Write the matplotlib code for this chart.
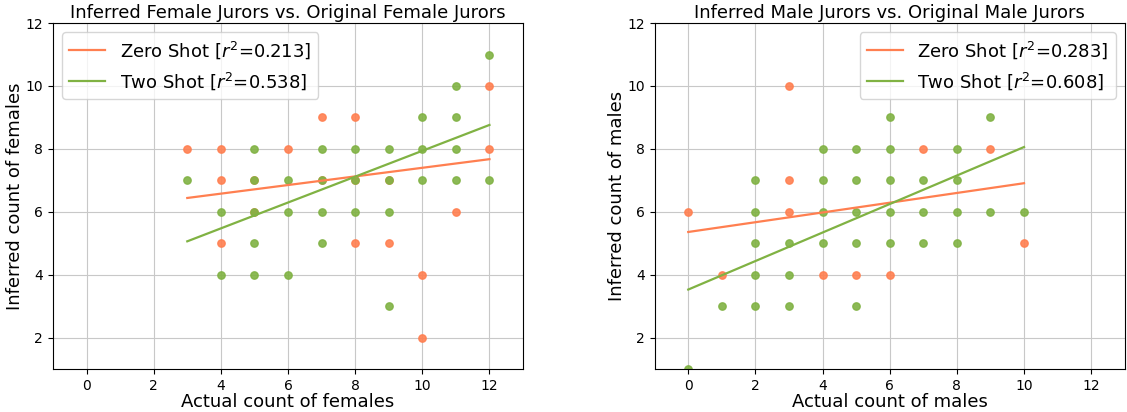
import matplotlib
matplotlib.use('Agg')
import matplotlib.pyplot as plt
import numpy as np

# 女性陪审员 (actual, inferred)
f_zero_x = [3, 4, 4, 4, 5, 5, 6, 7, 7, 8, 8, 8, 9, 9, 10, 10, 11, 12, 12]
f_zero_y = [8, 8, 7, 5, 7, 6, 8, 9, 7, 9, 7, 5, 5, 7, 4, 2, 6, 10, 8]
f_two_x = [3, 4, 4, 5, 5, 5, 5, 5, 6, 6, 6, 7, 7, 7, 7, 8, 8, 8, 9, 9, 9, 9,
           10, 10, 10, 11, 11, 11, 11, 12, 12]
f_two_y = [7, 6, 4, 8, 7, 6, 5, 4, 7, 6, 4, 8, 7, 6, 5, 8, 7, 6, 8, 7, 6, 3,
           9, 8, 7, 10, 9, 8, 7, 11, 7]
f_fit = {'zero': (0.137, 6.03), 'two': (0.411, 3.83)}
f_r2 = {'zero': 0.213, 'two': 0.538}

# 男性陪审员
m_zero_x = [0, 1, 3, 3, 3, 4, 5, 6, 7, 9, 10]
m_zero_y = [6, 4, 10, 7, 6, 4, 4, 4, 8, 8, 5]
m_two_x = [0, 1, 2, 2, 2, 2, 2, 3, 3, 3, 4, 4, 4, 4, 5, 5, 5, 5, 5,
           6, 6, 6, 6, 6, 7, 7, 7, 8, 8, 8, 8, 9, 9, 10]
m_two_y = [1, 3, 7, 6, 5, 4, 3, 5, 4, 3, 8, 7, 6, 5, 8, 7, 6, 5, 3,
           9, 8, 7, 6, 5, 7, 6, 5, 8, 7, 6, 5, 9, 6, 6]
m_fit = {'zero': (0.155, 5.36), 'two': (0.453, 3.53)}
m_r2 = {'zero': 0.283, 'two': 0.608}

c_zero = '#ff7f50'
c_two = '#80b243'

fig, axes = plt.subplots(1, 2, figsize=(11.27, 4.12), dpi=100)
fig.subplots_adjust(left=0.047, right=0.998, bottom=0.104, top=0.944, wspace=0.28)

panels = [
    (axes[0], f_zero_x, f_zero_y, f_two_x, f_two_y, f_fit, f_r2,
     'Inferred Female Jurors vs. Original Female Jurors',
     'Actual count of females', 'Inferred count of females', 'upper left'),
    (axes[1], m_zero_x, m_zero_y, m_two_x, m_two_y, m_fit, m_r2,
     'Inferred Male Jurors vs. Original Male Jurors',
     'Actual count of males', 'Inferred count of males', 'upper right'),
]

for ax, zx, zy, tx, ty, fit, r2, title, xl, yl, loc in panels:
    ax.scatter(zx, zy, s=28, color=c_zero, alpha=0.9, zorder=2)
    ax.scatter(tx, ty, s=28, color=c_two, alpha=0.9, zorder=2)
    xz = np.array([min(zx), max(zx)])
    xt = np.array([min(tx), max(tx)])
    ax.plot(xz, fit['zero'][0] * xz + fit['zero'][1], color=c_zero, lw=1.6,
            zorder=3, label='Zero Shot [$r^2$=%.3f]' % r2['zero'])
    ax.plot(xt, fit['two'][0] * xt + fit['two'][1], color=c_two, lw=1.6,
            zorder=3, label='Two Shot [$r^2$=%.3f]' % r2['two'])
    ax.set_xlim(-1, 13)
    ax.set_ylim(1, 12)
    ax.set_xticks(np.arange(0, 13, 2))
    ax.set_yticks(np.arange(2, 13, 2))
    ax.tick_params(labelsize=10)
    ax.grid(True, color='#c8c8c8')
    ax.set_axisbelow(True)
    ax.set_title(title, fontsize=13, pad=4)
    ax.set_xlabel(xl, fontsize=13, labelpad=0)
    ax.set_ylabel(yl, fontsize=13, labelpad=1)
    ax.legend(loc=loc, fontsize=13)

plt.savefig('out.png')
